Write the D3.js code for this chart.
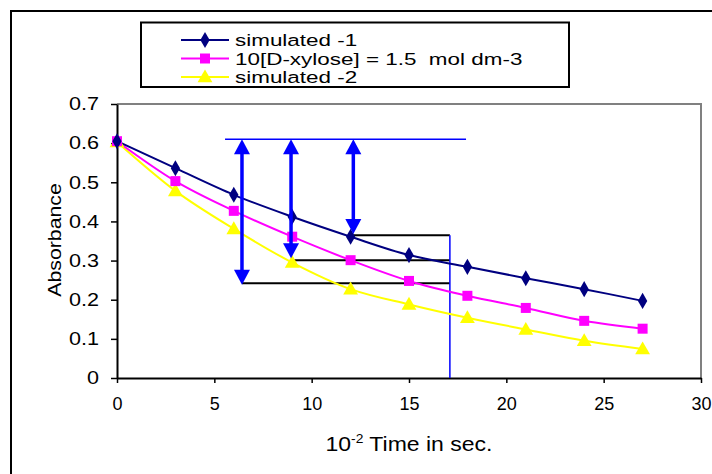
<!DOCTYPE html>
<html><head><meta charset="utf-8">
<script src="https://cdn.jsdelivr.net/npm/d3@7"></script>
<style>
html,body{margin:0;padding:0;background:#fff;}
svg{display:block;font-family:"Liberation Sans",Arial,sans-serif;}
</style></head>
<body><svg id="c" width="712" height="474"></svg>
<script>
// ---- data ----
const times = [0, 3, 6, 9, 12, 15, 18, 21, 24, 27];
const simulated1 = [0.605, 0.536, 0.468, 0.412, 0.361, 0.314, 0.284, 0.255, 0.227, 0.197];
const xylose = [0.605, 0.503, 0.427, 0.361, 0.301, 0.248, 0.210, 0.179, 0.146, 0.126];
const simulated2 = [0.603, 0.478, 0.381, 0.295, 0.227, 0.188, 0.154, 0.124, 0.095, 0.074];
const seriesNames = ["simulated -1", "10[D-xylose] = 1.5  mol dm-3", "simulated -2"];
const xTicks = [0, 5, 10, 15, 20, 25, 30];
const yTicks = [0, 0.1, 0.2, 0.3, 0.4, 0.5, 0.6, 0.7];
// annotation (data units)
const topLine = {x1: 5.55, x2: 17.93, y: 0.61};
const arrowX = [6.42, 8.94, 12.14];
const arrowBottom = [0.238, 0.306, 0.368];
const levelY = [0.242, 0.301, 0.365];
const levelX1 = [6.42, 8.94, 12.14];
const levelX2 = 17.1;
const verticalLine = {x: 17.1, y1: 0.365, y2: 0};

const svg = d3.select("#c");
const x = d3.scaleLinear().domain([0, 30]).range([117, 701]);
const y = d3.scaleLinear().domain([0, 0.7]).range([378, 104]);

// outer frame
svg.append("rect").attr("x", 11).attr("y", 11).attr("width", 760).attr("height", 520)
  .attr("fill", "none").attr("stroke", "#000").attr("stroke-width", 2);

// plot border (top/right grey)
svg.append("path").attr("d", `M${x(0)},${y(0.7)}H${x(30)}V${y(0)}`)
  .attr("fill", "none").attr("stroke", "#808080").attr("stroke-width", 2);

// axes
const fmt = d => d === 0 ? "0" : d.toFixed(1);
const gy = svg.append("g").attr("transform", `translate(${x(0)},0)`)
  .call(d3.axisLeft(y).tickValues(yTicks).tickFormat(fmt).tickSize(6).tickSizeOuter(0).tickPadding(12));
const gx = svg.append("g").attr("transform", `translate(0,${y(0)})`)
  .call(d3.axisBottom(x).tickValues(xTicks).tickSize(5).tickSizeOuter(0).tickPadding(14));
[gx, gy].forEach(g => {
  g.selectAll("path.domain").attr("stroke", "#000").attr("stroke-width", 2);
  g.selectAll(".tick line").attr("stroke", "#000").attr("stroke-width", 1.5);
  g.selectAll(".tick text").attr("fill", "#000").style("font-size", "18px")
    .style("font-family", "'Liberation Sans',Arial,sans-serif");
});
gy.selectAll(".tick text").each(function(){
  const t = d3.select(this);
  const tx = +t.attr("x");
  t.attr("x", null).attr("transform", `translate(${tx},0) scale(1.2,1)`);
});

// annotations
const blue = "#0000FF";
svg.append("line").attr("x1", x(topLine.x1)).attr("x2", x(topLine.x2))
  .attr("y1", y(topLine.y)).attr("y2", y(topLine.y)).attr("stroke", blue).attr("stroke-width", 1.5);
levelY.forEach((ly, i) => {
  svg.append("line").attr("x1", x(levelX1[i])).attr("x2", x(levelX2))
    .attr("y1", y(ly)).attr("y2", y(ly)).attr("stroke", "#000").attr("stroke-width", 2);
});
svg.append("line").attr("x1", x(verticalLine.x)).attr("x2", x(verticalLine.x))
  .attr("y1", y(verticalLine.y1)).attr("y2", y(verticalLine.y2)).attr("stroke", blue).attr("stroke-width", 1.5);

// series
const series = [
  {name: seriesNames[0], vals: simulated1, color: "#000080", sym: d3.symbolDiamond, size: 75},
  {name: seriesNames[1], vals: xylose, color: "#FF00FF", sym: d3.symbolSquare, size: 100},
  {name: seriesNames[2], vals: simulated2, color: "#FFFF00", sym: d3.symbolTriangle, size: 95}
];
const line = d3.line().x((d, i) => x(times[i])).y(d => y(d)).curve(d3.curveCatmullRom.alpha(0));
series.slice().reverse().forEach(s => {
  svg.append("path").attr("d", line(s.vals)).attr("fill", "none")
    .attr("stroke", s.color).attr("stroke-width", 2);
});
series.slice().reverse().forEach(s => {
  svg.append("g").selectAll("path").data(s.vals).join("path")
    .attr("d", d3.symbol().type(s.sym).size(s.size))
    .attr("transform", (d, i) => `translate(${x(times[i])},${y(d) + (s.sym === d3.symbolTriangle ? 1 : 0)})`)
    .attr("fill", s.color);
});

// double arrows
arrowX.forEach((ax, i) => {
  const X = x(ax), yt = y(topLine.y), yb = y(arrowBottom[i]);
  const hw = 8, hh = 15;
  svg.append("line").attr("x1", X).attr("x2", X).attr("y1", yt + hh - 1).attr("y2", yb - hh + 1)
    .attr("stroke", blue).attr("stroke-width", 3.5);
  svg.append("path").attr("d", `M${X},${yt}L${X - hw},${yt + hh}L${X + hw},${yt + hh}Z`).attr("fill", blue);
  svg.append("path").attr("d", `M${X},${yb}L${X - hw},${yb - hh}L${X + hw},${yb - hh}Z`).attr("fill", blue);
});

// axis titles
svg.append("text").attr("transform", "translate(61,240) rotate(-90) scale(1.12,1)")
  .attr("text-anchor", "middle").style("font-size", "19px").text("Absorbance");
const xt = svg.append("text").attr("transform", "translate(409,451) scale(1.15,1)")
  .attr("text-anchor", "middle").style("font-size", "20px");
xt.append("tspan").text("10");
xt.append("tspan").attr("dy", -8).style("font-size", "12px").text("-2");
xt.append("tspan").attr("dy", 8).text(" Time in sec.");

// legend
const lg = svg.append("g");
lg.append("rect").attr("x", 141).attr("y", 22.5).attr("width", 428).attr("height", 64.5)
  .attr("fill", "#fff").attr("stroke", "#000").attr("stroke-width", 2);
const rowY = [40, 58.5, 77];
const baseY = [46, 64.5, 83];
series.forEach((s, i) => {
  lg.append("line").attr("x1", 181).attr("x2", 229).attr("y1", rowY[i]).attr("y2", rowY[i])
    .attr("stroke", s.color).attr("stroke-width", 2);
  lg.append("path").attr("d", d3.symbol().type(s.sym).size(s.size)())
    .attr("transform", `translate(205,${rowY[i] + (s.sym === d3.symbolTriangle ? 1 : 0)})`).attr("fill", s.color);
  lg.append("text").attr("transform", `translate(235,${baseY[i]}) scale(1.36,1)`)
    .style("font-size", "16.5px").style("white-space", "pre").attr("xml:space", "preserve")
    .attr("fill", "#000").text(s.name);
});
</script></body></html>
